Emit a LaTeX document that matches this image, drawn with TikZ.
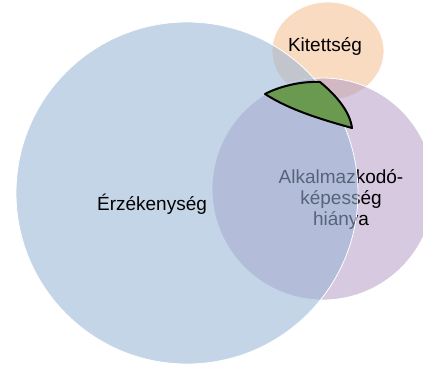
\documentclass[tikz,border=0pt]{standalone}
\usepackage{fontspec}
\setmainfont{Liberation Sans}
\usepackage{xcolor}
\usetikzlibrary{positioning, shapes.geometric}

\definecolor{erzblue}{RGB}{152,180,214}
\definecolor{alkpurple}{RGB}{180,156,198}
\definecolor{kitorange}{RGB}{248,219,193}
\definecolor{leafgreen}{RGB}{106,153,80}

\begin{document}
\begin{tikzpicture}[
		x=1pt, y=-1pt,
		every node/.style={font=\fontsize{19}{21}\selectfont},
		set/.style={circle, inner sep=0pt, draw=white, line width=0.8pt},
		label/.style={align=center, text=black}
		]
		
		\clip (0,0) rectangle (423,365);
		
		% Halmazok
		\node[set, ellipse, fill=kitorange, minimum width=112pt, minimum height=98pt] (kit) at (328,51) {};
		\node[set, fill=alkpurple, fill opacity=0.55, minimum size=222pt] (alk) at (323,189) {};
		\node[label] (alktext) at (341,199) {Alkalmazkodó-\\képesség\\hiánya};
		\node[set, fill=erzblue, fill opacity=0.56, minimum size=342pt] (erz) at (187,193) {};
		
		% Feliratok
		\node[label, anchor=base] (kittext) at (325,51) {Kitettség};
		\node[label, anchor=base] (erztext) at (152,210) {Érzékenység};
		
		% Kiemelt metszet
		\draw[fill=leafgreen, line width=2pt, line join=round]
			(265,94) .. controls (278,87) and (300,81) .. (320,82)
			.. controls (337,96) and (350,112) .. (352,128)
			.. controls (320,119) and (290,110) .. cycle;
		
	\end{tikzpicture}
\end{document}
